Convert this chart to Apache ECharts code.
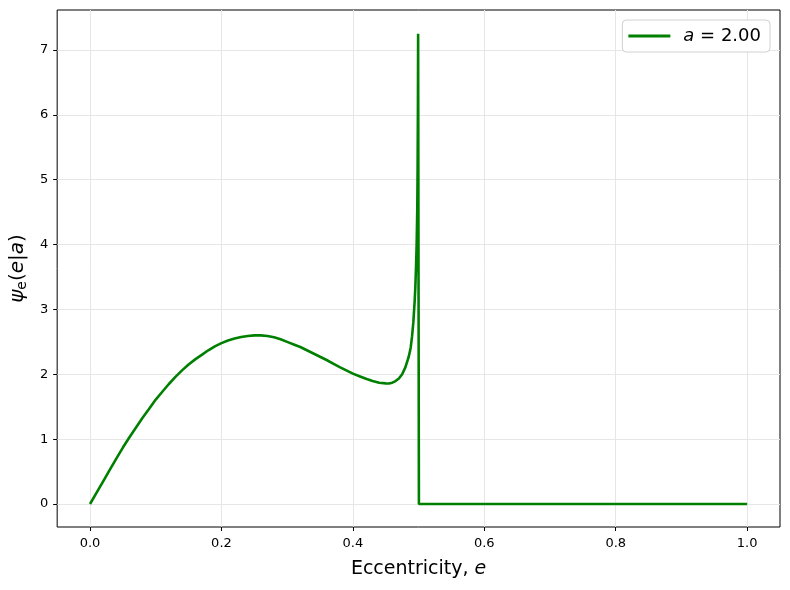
<!DOCTYPE html>
<html>
<head>
    <meta charset="utf-8">
    <title>psi_e(e|a)</title>
    <script src="https://cdn.jsdelivr.net/npm/echarts@6/dist/echarts.min.js"></script>
    <style>
        html, body { margin: 0; padding: 0; background: #fff; }
    </style>
</head>
<body>
    <div id="main" style="width: 790px;height:590px;"></div>
    <script type="text/javascript">
        // eccentricity samples and density values
        var ecc = [0, 0.01, 0.02, 0.03, 0.04, 0.05, 0.06, 0.07, 0.08, 0.09,
                   0.10, 0.11, 0.12, 0.13, 0.14, 0.15, 0.16, 0.17, 0.18, 0.19,
                   0.20, 0.21, 0.22, 0.23, 0.24, 0.25, 0.26, 0.27, 0.28, 0.29,
                   0.30, 0.31, 0.32, 0.33, 0.34, 0.35, 0.36, 0.37, 0.38, 0.39,
                   0.40, 0.41, 0.42, 0.43, 0.44, 0.45, 0.455, 0.46, 0.465, 0.47,
                   0.475, 0.48, 0.485, 0.488, 0.49, 0.492, 0.494, 0.495, 0.496, 0.497,
                   0.498, 0.4985, 0.499, 0.4993, 0.5005, 0.75, 1.0];
        var psi = [0, 0.175, 0.35, 0.525, 0.70, 0.87, 1.03, 1.18, 1.33, 1.47,
                   1.61, 1.73, 1.85, 1.96, 2.06, 2.15, 2.23, 2.30, 2.37, 2.43,
                   2.48, 2.52, 2.55, 2.575, 2.59, 2.60, 2.60, 2.59, 2.57, 2.54,
                   2.50, 2.46, 2.42, 2.37, 2.32, 2.27, 2.22, 2.165, 2.11, 2.06,
                   2.01, 1.97, 1.93, 1.895, 1.87, 1.86, 1.858, 1.87, 1.895, 1.935,
                   2.0, 2.11, 2.27, 2.41, 2.58, 2.80, 3.12, 3.33, 3.62, 3.98,
                   4.55, 5.15, 6.15, 7.25, 0, 0, 0];
        var xTicks = [0, 0.2, 0.4, 0.6, 0.8, 1.0];
        var yTicks = [0, 1, 2, 3, 4, 5, 6, 7];

        var points = ecc.map(function (e, i) { return [e, psi[i]]; });

        var myChart = echarts.init(document.getElementById('main'));
        var font = 'DejaVu Sans';

        var option = {
            animation: false,
            backgroundColor: '#fff',
            textStyle: { fontFamily: font },
            grid: {
                left: 57, right: 10, top: 10, bottom: 63,
                show: true, borderColor: '#000', borderWidth: 1,
                backgroundColor: 'transparent'
            },
            legend: {
                right: 20, top: 20,
                padding: [7, 9, 7, 6],
                borderColor: '#d0d0d0', borderWidth: 1, borderRadius: 4,
                backgroundColor: '#fff',
                itemWidth: 42, itemHeight: 3, itemGap: 10,
                icon: 'rect',
                data: ['a = 2.00'],
                formatter: function () { return '{i|a} = 2.00'; },
                textStyle: {
                    fontFamily: font, fontSize: 18, color: '#000',
                    padding: [0, 0, 0, 8],
                    rich: { i: { fontStyle: 'italic', fontSize: 18, fontFamily: font } }
                }
            },
            xAxis: {
                type: 'value', min: -0.05, max: 1.05,
                name: 'Eccentricity, {i|e}',
                nameLocation: 'middle', nameGap: 33,
                nameTextStyle: {
                    fontFamily: font, fontSize: 19, color: '#000',
                    rich: { i: { fontStyle: 'italic', fontSize: 19, fontFamily: font } }
                },
                axisLine: { show: false, onZero: false },
                axisTick: { show: true, inside: false, length: 4, customValues: xTicks, lineStyle: { color: '#000' } },
                axisLabel: {
                    customValues: xTicks, margin: 10, color: '#000', fontSize: 13, fontFamily: font,
                    formatter: function (v) { return v.toFixed(1); }
                },
                splitLine: { show: true, lineStyle: { color: '#e6e6e6', width: 1 } }
            },
            yAxis: {
                type: 'value', min: -0.355, max: 7.617,
                name: '{i|ψ}{s|e}({i|e}|{i|a})',
                nameLocation: 'middle', nameGap: 27, nameRotate: 90,
                nameTextStyle: {
                    fontFamily: font, fontSize: 20, color: '#000',
                    rich: {
                        i: { fontStyle: 'italic', fontSize: 20, fontFamily: font },
                        s: { fontSize: 14, fontFamily: font, padding: [8, 0, 0, 0] }
                    }
                },
                axisLine: { show: false, onZero: false },
                axisTick: { show: true, inside: false, length: 4, customValues: yTicks, lineStyle: { color: '#000' } },
                axisLabel: {
                    customValues: yTicks, margin: 9, color: '#000', fontSize: 13, fontFamily: font
                },
                splitLine: { show: true, lineStyle: { color: '#e6e6e6', width: 1 } }
            },
            series: [{
                name: 'a = 2.00',
                type: 'line',
                data: points,
                showSymbol: false,
                smooth: false,
                color: '#008000',
                lineStyle: { color: '#008000', width: 2.6 },
                itemStyle: { color: '#008000' }
            }]
        };

        myChart.setOption(option);
    </script>
</body>
</html>
